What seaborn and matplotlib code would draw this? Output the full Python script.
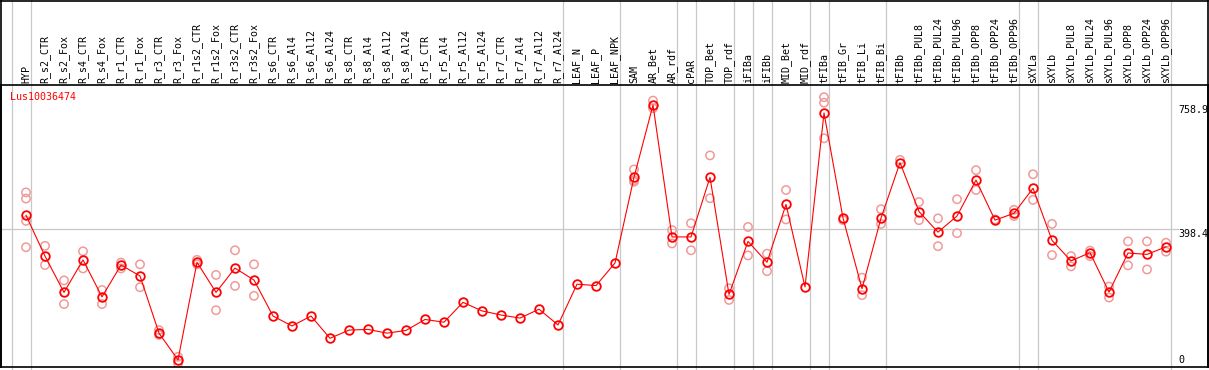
import numpy as np
import pandas as pd
import matplotlib
matplotlib.use("Agg")
import matplotlib.pyplot as plt
from matplotlib.lines import Line2D
import seaborn as sns

gene = "Lus10036474"

samples = [
    "HYP", "R_s2_CTR", "R_s2_Fox", "R_s4_CTR", "R_s4_Fox", "R_r1_CTR", "R_r1_Fox",
    "R_r3_CTR", "R_r3_Fox", "R_r1s2_CTR", "R_r1s2_Fox", "R_r3s2_CTR", "R_r3s2_Fox",
    "R_s6_CTR", "R_s6_Al4", "R_s6_Al12", "R_s6_Al24", "R_s8_CTR", "R_s8_Al4",
    "R_s8_Al12", "R_s8_Al24", "R_r5_CTR", "R_r5_Al4", "R_r5_Al12", "R_r5_Al24",
    "R_r7_CTR", "R_r7_Al4", "R_r7_Al12", "R_r7_Al24", "LEAF_N", "LEAF_P", "LEAF_NPK",
    "SAM", "AR_Bet", "AR_rdf", "cPAR", "TOP_Bet", "TOP_rdf", "iFIBa", "iFIBb",
    "MID_Bet", "MID_rdf", "tFIBa", "tFIB_Gr", "tFIB_Li", "tFIB_Bi", "tFIBb",
    "tFIBb_PUL8", "tFIBb_PUL24", "tFIBb_PUL96", "tFIBb_OPP8", "tFIBb_OPP24",
    "tFIBb_OPP96", "sXYLa", "sXYLb", "sXYLb_PUL8", "sXYLb_PUL24", "sXYLb_PUL96",
    "sXYLb_OPP8", "sXYLb_OPP24", "sXYLb_OPP96",
]

means = [
    437, 318, 212, 307, 199, 292, 260, 93, 15, 300, 212, 283, 248,
    143, 114, 143, 78, 102, 104, 93, 101, 133, 125, 183, 158, 146, 137, 163, 117,
    236, 232, 298,
    548, 758.9, 374, 374, 548, 206, 361, 300, 469, 228, 736, 429, 223, 429,
    591, 448, 388, 435, 540, 423, 443,
    516, 364, 304, 328, 213, 327, 323, 345,
]

replicates = [
    [504, 486, 421, 344], [348, 292], [247, 178], [332, 282], [219, 178],
    [299, 282], [294, 227], [102, 88], [24, 5], [307, 294], [263, 160],
    [335, 231], [294, 202],
    [], [], [], [], [], [], [], [], [], [], [], [], [], [], [], [],
    [], [], [],
    [571, 540, 535], [772, 750], [394, 355], [414, 335], [612, 487], [224, 190],
    [403, 320], [325, 274], [511, 425], [], [782, 766, 662], [423], [255, 204],
    [455, 412],
    [599], [476, 423], [428, 347], [484, 385], [569, 511], [425], [453, 435],
    [557, 482], [412, 321], [318, 288], [334, 318], [229, 197], [361, 291],
    [361, 279], [357, 331],
]

# last sample index of each group (group separators)
group_ends = [-1, 0, 28, 31, 34, 35, 37, 38, 39, 41, 42, 45, 52, 53, 60]
ref_levels = [0, 398.4, 758.9]

W, H = 1209, 370
fig = plt.figure(figsize=(W / 100, H / 100), dpi=100)
ax = fig.add_axes([1 / W, 3 / H, 1207 / W, 282 / H])

mono = "DejaVu Sans Mono"
x = np.arange(len(samples))

rep_df = pd.DataFrame(
    [(i, v) for i, reps in enumerate(replicates) for v in reps],
    columns=["idx", "value"],
)
mean_df = pd.DataFrame({"idx": x, "value": means})

# group separators and reference line
for g in group_ends:
    ax.axvline(g + 0.24, ymin=-0.02, ymax=1.31, color="#c8c8c8", lw=0.9,
               clip_on=False, zorder=0)
ax.axhline(ref_levels[1], xmin=0, xmax=0.975, color="#c8c8c8", lw=0.9, zorder=0)

sns.scatterplot(data=rep_df, x="idx", y="value", marker="o", s=36,
                color="#f09a9a", linewidth=1.1, ax=ax, zorder=2, legend=False)
coll = ax.collections[-1]
coll.set_facecolor("none")
coll.set_edgecolor("#f09a9a")

sns.lineplot(data=mean_df, x="idx", y="value", color="#ff0000", lw=0.8,
             marker="o", markersize=6.2, mfc="none", mec="#ff0000",
             mew=1.3, ax=ax, zorder=3, legend=False)

ax.set_xlim(-1.316, 62.21)
ax.set_ylim(-5.8, 817.6)
ax.set_xticks([])
ax.set_yticks([])
ax.set_xlabel("")
ax.set_ylabel("")
for s in ax.spines.values():
    s.set_color("black")
    s.set_linewidth(1.2)

# sample labels above the plot
for i, name in enumerate(samples):
    ax.text(i, 1 + 2 / 282, name, transform=ax.get_xaxis_transform(),
            rotation=90, ha="center", va="bottom", fontsize=7.2,
            family=mono, clip_on=False)

# scale labels on the right
xt = (1178 - 1) / 1207
ax.text(xt, ref_levels[2], f"{ref_levels[2]:g}", transform=ax.get_yaxis_transform(),
        ha="left", va="top", fontsize=7.2, family=mono)
ax.text(xt, ref_levels[1], f"{ref_levels[1]:g}", transform=ax.get_yaxis_transform(),
        ha="left", va="top", fontsize=7.2, family=mono)
ax.text(xt, ref_levels[0], f"{ref_levels[0]:g}", transform=ax.get_yaxis_transform(),
        ha="left", va="bottom", fontsize=7.2, family=mono)

fig.text(10 / W, 1 - 92 / H, gene, color="red", ha="left", va="top",
         fontsize=7.2, family=mono)

# outer frame
fig.add_artist(Line2D([1 / W, 1 / W], [3 / H, 1], color="black", lw=1.2))
fig.add_artist(Line2D([1208 / W, 1208 / W], [3 / H, 1], color="black", lw=1.2))
fig.add_artist(Line2D([1 / W, 1208 / W], [1 - 0.6 / H, 1 - 0.6 / H], color="black", lw=1.2))

fig.savefig("out.png", dpi=100, facecolor="white")
